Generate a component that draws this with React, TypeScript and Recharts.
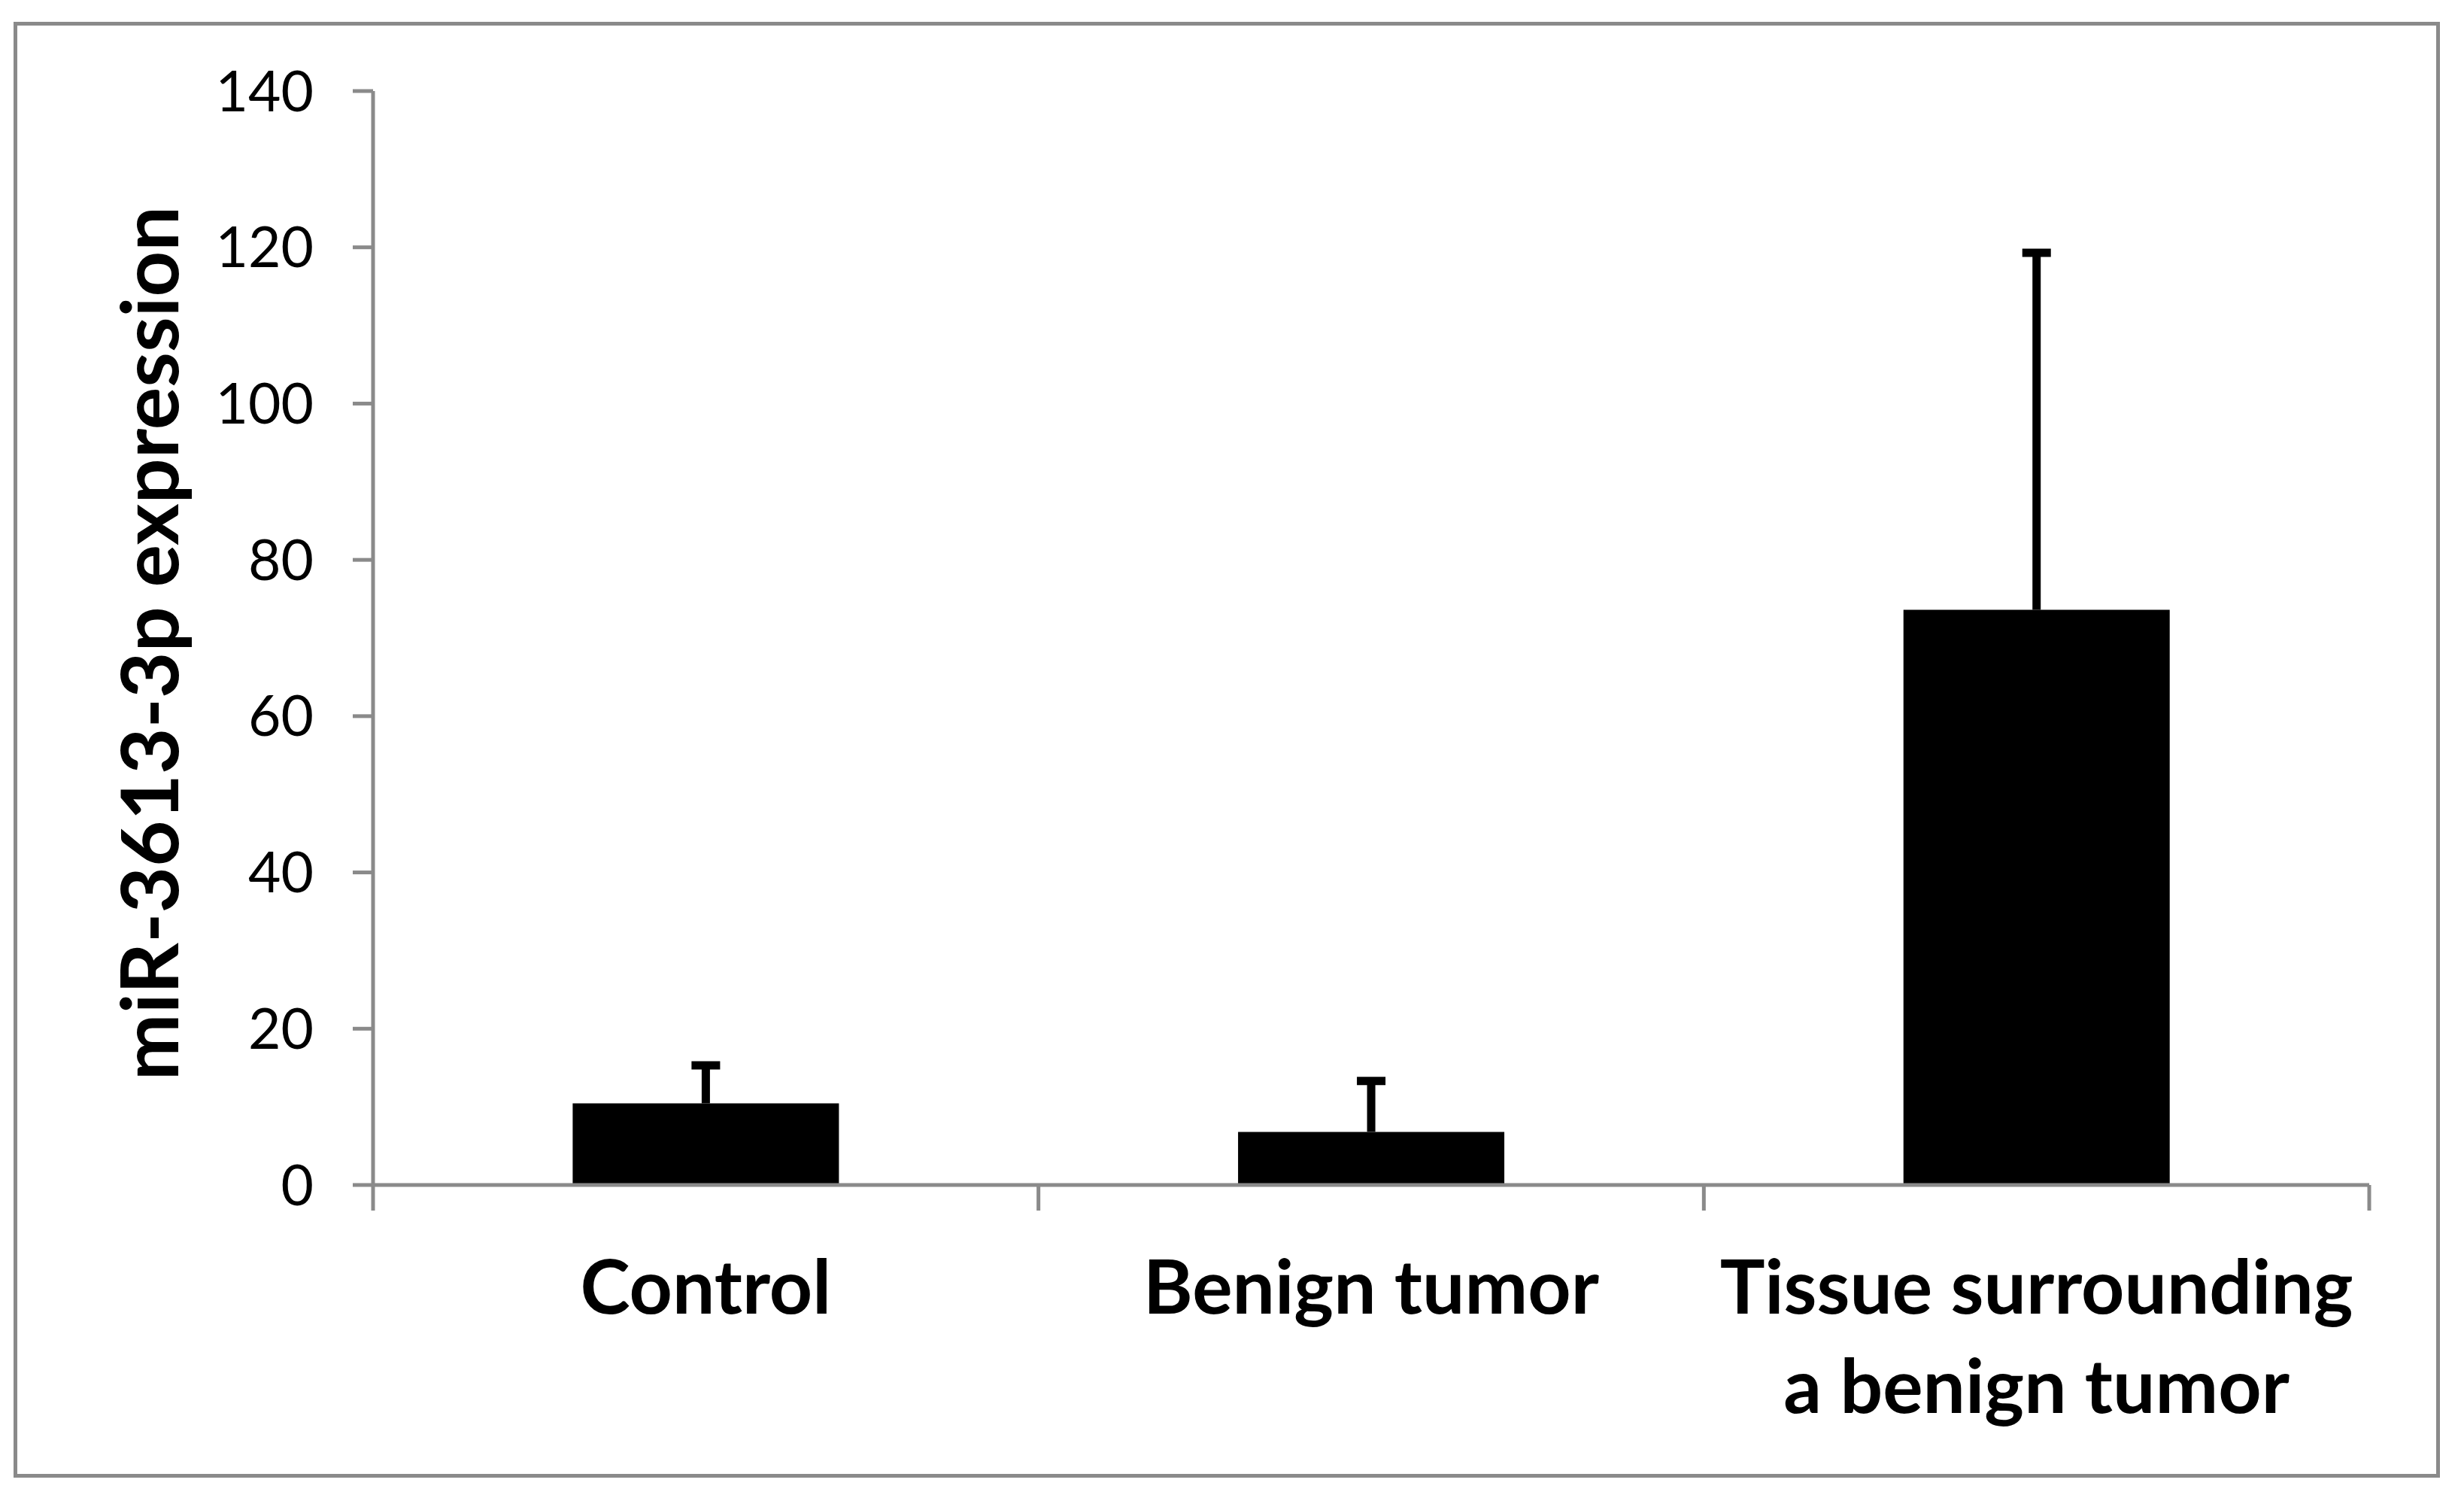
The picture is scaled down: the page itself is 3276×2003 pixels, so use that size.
import React from "react";
import { BarChart, Bar, XAxis, YAxis, ErrorBar, Label } from "recharts";

// values
const categories = ["Control", "Benign tumor", "Tissue surrounding\na benign tumor"];
const means = [10.45, 6.8, 73.6];
const upperErrors = [4.85, 6.5, 45.7];
const yTicks = [0, 20, 40, 60, 80, 100, 120, 140];

const data = categories.map((name, i) => ({
  name,
  value: means[i],
  err: [0, upperErrors[i]],
}));

const AXIS_GREY = "#8a8a8a";
const FONT = "Lato, 'Open Sans', sans-serif";
const EDGE_TICK = 34;

// category label plus Excel-style tick marks on the category boundaries
function CategoryTick(props: any) {
  const { x, y, payload, index, visibleTicksCount, width } = props;
  const lines = String(payload.value).split("\n");
  const band = Number(width) / Number(visibleTicksCount || 1);
  const edges = [x - band / 2];
  if (index === visibleTicksCount - 1) edges.push(x + band / 2);
  return (
    <g>
      {Number.isFinite(band) &&
        edges.map((ex, i) => (
          <line
            key={i}
            x1={ex}
            x2={ex}
            y1={y}
            y2={y + EDGE_TICK}
            stroke={AXIS_GREY}
            strokeWidth={5}
          />
        ))}
      <text
        x={x}
        y={y}
        textAnchor="middle"
        fontFamily={FONT}
        fontWeight={700}
        fontSize={100}
        fill="#000"
      >
        {lines.map((line, i) => (
          <tspan key={i} x={x} dy={i === 0 ? 171 : 132}>
            {line}
          </tspan>
        ))}
      </text>
    </g>
  );
}

function YTitle(props: any) {
  const vb = props.viewBox ?? { x: 0, y: 0, width: 0, height: 0 };
  const cx = vb.x + 214;
  const cy = vb.y + vb.height / 2 + 7;
  return (
    <text
      x={cx}
      y={cy}
      transform={`rotate(-90, ${cx}, ${cy})`}
      textAnchor="middle"
      fontFamily={FONT}
      fontWeight={700}
      fontSize={106}
      fill="#000"
    >
      miR-3613-3p expression
    </text>
  );
}

export default function App() {
  return (
    <div style={{ position: "relative", width: 3276, height: 2003, background: "#fff" }}>
      <style>{`
        body { margin: 0; }
        .recharts-errorBar line:nth-of-type(3) { display: none; }
      `}</style>
      <div
        style={{
          position: "absolute",
          left: 18,
          top: 29,
          width: 3216,
          height: 1925,
          border: `5px solid ${AXIS_GREY}`,
        }}
      >
        <BarChart
          width={3216}
          height={1925}
          data={data}
          margin={{ top: 87, right: 89, bottom: 0, left: 0 }}
          barCategoryGap="30%"
        >
          <XAxis
            dataKey="name"
            height={384}
            interval={0}
            axisLine={{ stroke: AXIS_GREY, strokeWidth: 5 }}
            tickLine={false}
            tickSize={0}
            tickMargin={0}
            tick={<CategoryTick />}
          />
          <YAxis
            domain={[0, 140]}
            ticks={yTicks}
            interval={0}
            width={473}
            tickSize={27}
            tickMargin={52}
            axisLine={{ stroke: AXIS_GREY, strokeWidth: 5 }}
            tickLine={{ stroke: AXIS_GREY, strokeWidth: 5 }}
            tick={{ fontSize: 75, fontFamily: FONT, fill: "#000" }}
          >
            <Label content={YTitle} />
          </YAxis>
          <Bar dataKey="value" fill="#000" isAnimationActive={false}>
            <ErrorBar
              dataKey="err"
              width={19}
              strokeWidth={11}
              stroke="#000"
              isAnimationActive={false}
            />
          </Bar>
        </BarChart>
      </div>
    </div>
  );
}
